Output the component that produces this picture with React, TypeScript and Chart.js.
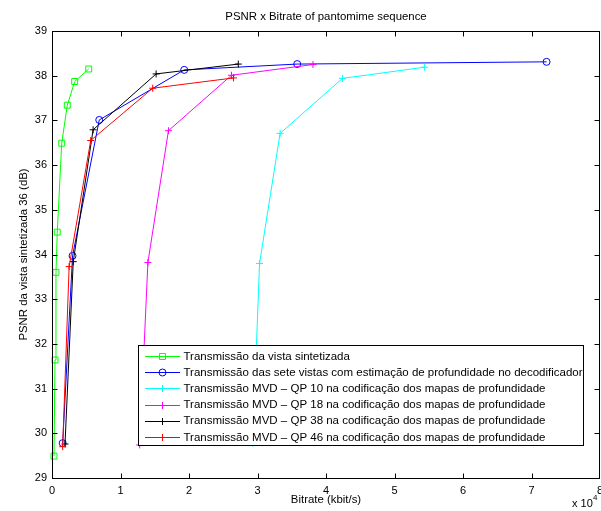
import React, { useEffect, useRef } from "react";
import { Chart, registerables } from "chart.js";

Chart.register(...registerables);

// Bitrate in kbit/s, PSNR in dB
const greenX = [290, 440, 580, 770, 1420, 2230, 3310, 5360];
const greenY = [29.49, 31.64, 33.6, 34.5, 36.49, 37.34, 37.87, 38.15];
const blueX = [1560, 3000, 6900, 19300, 35800, 72200];
const blueY = [29.78, 33.97, 37.01, 38.13, 38.26, 38.31];
const cyanX = [29300, 30300, 33300, 42400, 54400];
const cyanY = [29.78, 33.8, 36.71, 37.94, 38.19];
const magentaX = [12800, 14000, 17000, 26200, 38100];
const magentaY = [29.74, 33.82, 36.77, 38.01, 38.25];
const blackX = [1900, 3100, 6000, 15200, 27200];
const blackY = [29.76, 33.84, 36.79, 38.04, 38.26];
const redX = [1560, 2500, 5650, 14700, 26500];
const redY = [29.7, 33.73, 36.55, 37.72, 37.95];

const seriesLabels = [
  "Transmissão da vista sintetizada",
  "Transmissão das sete vistas com estimação de profundidade no decodificador",
  "Transmissão MVD – QP 10 na codificação dos mapas de profundidade",
  "Transmissão MVD – QP 18 na codificação dos mapas de profundidade",
  "Transmissão MVD – QP 38 na codificação dos mapas de profundidade",
  "Transmissão MVD – QP 46 na codificação dos mapas de profundidade",
];
const seriesColors = ["#00ff00", "#0000ff", "#00ffff", "#ff00ff", "#000000", "#ff0000"];
const seriesMarkers = ["rect", "circle", "cross", "cross", "cross", "cross"];
const seriesRadius = [4.2, 3.5, 3.5, 3.5, 3.5, 3.5];

const xTickValues = [0, 10000, 20000, 30000, 40000, 50000, 60000, 70000, 80000];
const yTickValues = [29, 30, 31, 32, 33, 34, 35, 36, 37, 38, 39];

const titleText = "PSNR x Bitrate of pantomime sequence";
const xLabel = "Bitrate (kbit/s)";
const yLabel = "PSNR da vista sintetizada 36 (dB)";
const FONT = '"Liberation Sans", Arial, sans-serif';

const zip = (xs: number[], ys: number[]) => xs.map((x, i) => ({ x, y: ys[i] }));

export default function App() {
  const ref = useRef<HTMLCanvasElement | null>(null);
  useEffect(() => {
    if (!ref.current) return;
    const xsArr = [greenX, blueX, cyanX, magentaX, blackX, redX];
    const ysArr = [greenY, blueY, cyanY, magentaY, blackY, redY];
    const datasets = seriesLabels.map((label, i) => ({
      label,
      data: zip(xsArr[i], ysArr[i]),
      borderColor: seriesColors[i],
      backgroundColor: "rgba(0,0,0,0)",
      pointBorderColor: seriesColors[i],
      pointBackgroundColor: "rgba(0,0,0,0)",
      borderWidth: 1,
      pointBorderWidth: 1,
      pointStyle: seriesMarkers[i] as any,
      pointRadius: seriesRadius[i],
      tension: 0,
      showLine: true,
      clip: 8,
      order: 6 - i,
    }));

    function drawMarker(ctx: CanvasRenderingContext2D, style: string, x: number, y: number, r: number, color: string) {
      ctx.save();
      ctx.strokeStyle = color;
      ctx.lineWidth = 1;
      ctx.beginPath();
      if (style === "rect") {
        const s = Math.SQRT1_2 * r;
        ctx.rect(x - s, y - s, 2 * s, 2 * s);
      } else if (style === "circle") {
        ctx.arc(x, y, r, 0, Math.PI * 2);
      } else {
        ctx.moveTo(x - r, y);
        ctx.lineTo(x + r, y);
        ctx.moveTo(x, y - r);
        ctx.lineTo(x, y + r);
      }
      ctx.stroke();
      ctx.restore();
    }

    const decor = {
      id: "decor",
      afterDraw(chart: any) {
        const ctx = chart.ctx as CanvasRenderingContext2D;
        const { left, right, top, bottom } = chart.chartArea;
        const xs = chart.scales.x;
        const ys = chart.scales.y;
        ctx.save();
        ctx.strokeStyle = "#000";
        ctx.lineWidth = 1;
        const L = Math.round(left) + 0.5;
        const R = Math.round(right) - 0.5;
        const T = Math.round(top) + 0.5;
        const B = Math.round(bottom) + 0.5;
        ctx.strokeRect(L, T, R - L, B - T);
        ctx.beginPath();
        xTickValues.forEach((v) => {
          let px = Math.round(xs.getPixelForValue(v)) + 0.5;
          if (px > R) px = R;
          ctx.moveTo(px, B);
          ctx.lineTo(px, B - 5);
          ctx.moveTo(px, T);
          ctx.lineTo(px, T + 5);
        });
        yTickValues.forEach((v) => {
          const py = Math.round(ys.getPixelForValue(v)) + 0.5;
          ctx.moveTo(L, py);
          ctx.lineTo(L + 5, py);
          ctx.moveTo(R, py);
          ctx.lineTo(R - 5, py);
        });
        ctx.stroke();

        ctx.fillStyle = "#000";
        ctx.font = `11.4px ${FONT}`;
        ctx.textAlign = "center";
        ctx.textBaseline = "middle";
        ctx.fillText(titleText, (left + right) / 2, 17);
        ctx.fillText(xLabel, (left + right) / 2, 500);
        ctx.save();
        ctx.translate(24, (top + bottom) / 2);
        ctx.rotate(-Math.PI / 2);
        ctx.fillText(yLabel, 0, 0);
        ctx.restore();
        ctx.textAlign = "left";
        ctx.font = `11px ${FONT}`;
        ctx.fillText("x 10", 572, 504);
        ctx.font = `8px ${FONT}`;
        ctx.fillText("4", 593, 498);

        // legend
        const lx = 138.5, ly = 345.5, lw = 445, lh = 100;
        ctx.fillStyle = "#fff";
        ctx.fillRect(lx, ly, lw, lh);
        ctx.strokeStyle = "#000";
        ctx.lineWidth = 1;
        ctx.strokeRect(lx, ly, lw, lh);
        ctx.font = `11.5px ${FONT}`;
        ctx.textAlign = "left";
        ctx.textBaseline = "middle";
        seriesLabels.forEach((label, i) => {
          const ry = 356 + i * 16.2;
          ctx.strokeStyle = seriesColors[i];
          ctx.lineWidth = 1;
          ctx.beginPath();
          ctx.moveTo(145, Math.round(ry) + 0.5);
          ctx.lineTo(180, Math.round(ry) + 0.5);
          ctx.stroke();
          drawMarker(ctx, seriesMarkers[i], 162.5, Math.round(ry) + 0.5, seriesRadius[i], seriesColors[i]);
          ctx.fillStyle = "#000";
          ctx.fillText(label, 183.5, ry + 0.5);
        });
        ctx.restore();
      },
    };

    const chart = new Chart(ref.current, {
      type: "line",
      data: { datasets: datasets as any },
      options: {
        responsive: false,
        animation: false,
        layout: { autoPadding: false, padding: { left: 0, right: 1, top: 31, bottom: 0 } },
        plugins: {
          legend: { display: false },
          title: { display: false },
          tooltip: { enabled: false },
        },
        scales: {
          x: {
            type: "linear",
            min: 0,
            max: 80000,
            grid: { display: false, drawTicks: false },
            border: { display: false },
            afterBuildTicks: (s: any) => {
              s.ticks = xTickValues.map((v) => ({ value: v }));
            },
            afterFit: (s: any) => {
              s.height = 33;
              s.paddingLeft = 0;
              s.paddingRight = 0;
            },
            ticks: {
              padding: 6,
              maxRotation: 0,
              autoSkip: false,
              color: "#000",
              font: { family: FONT, size: 11 },
              callback: (v: any) => String(Number(v) / 10000),
            },
          },
          y: {
            type: "linear",
            min: 29,
            max: 39,
            grid: { display: false, drawTicks: false },
            border: { display: false },
            afterBuildTicks: (s: any) => {
              s.ticks = yTickValues.map((v) => ({ value: v }));
            },
            afterFit: (s: any) => {
              s.width = 52;
              s.paddingTop = 0;
              s.paddingBottom = 0;
            },
            ticks: {
              padding: 5,
              autoSkip: false,
              color: "#000",
              font: { family: FONT, size: 11 },
              callback: (v: any) => String(v),
            },
          },
        },
      },
      plugins: [decor],
    });
    return () => chart.destroy();
  }, []);

  return (
    <div style={{ position: "absolute", left: 0, top: 0, width: 601, height: 511, background: "#fff" }}>
      <canvas ref={ref} width={601} height={511} style={{ display: "block" }} />
    </div>
  );
}
